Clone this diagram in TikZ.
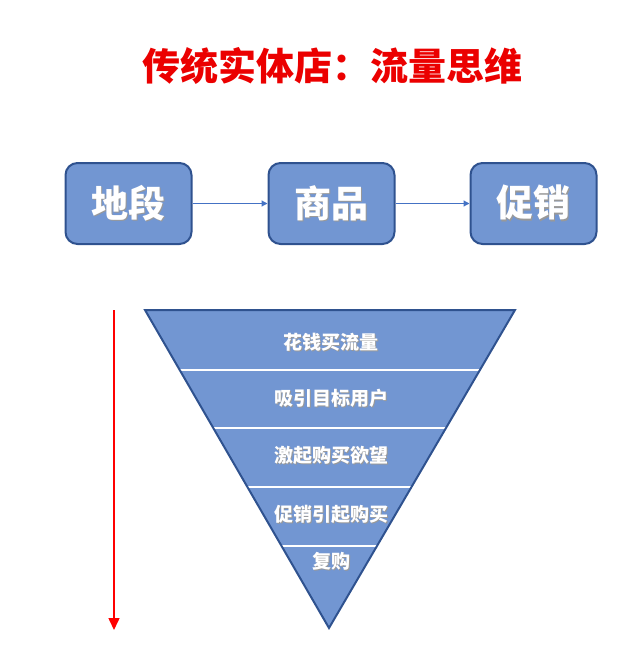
\documentclass[tikz,border=0pt]{standalone}
\usepackage{fontspec}
\newfontfamily\cjk{Noto Sans CJK SC}
\usetikzlibrary{arrows.meta}
\definecolor{boxblue}{RGB}{114,150,210}
\definecolor{edgeblue}{RGB}{47,82,143}
\definecolor{lineblue}{RGB}{68,114,196}
\definecolor{titlered}{RGB}{235,0,0}
\newcommand{\shadowtext}[1]{\makebox[0pt][l]{\hspace{1.2pt}\raisebox{-1.2pt}{\textcolor{black!40}{#1}}}#1}
\tikzset{
  stagebox/.style={draw=edgeblue, line width=2pt, fill=boxblue,
       rounded corners=12pt, minimum width=126pt, minimum height=81pt,
       text=white, font=\cjk\bfseries\fontsize{37}{37}\selectfont},
  flowline/.style={lineblue, line width=1.2pt,
       -{Triangle[length=6pt,width=6pt]}},
  levellabel/.style={text=white, font=\cjk\bfseries\fontsize{19}{19}\selectfont}
}

\begin{document}
\begin{tikzpicture}[x=1pt, y=-1pt]
\useasboundingbox (0,0) rectangle (640,672);

\draw (332, 66) node[text=titlered,
 font=\cjk\bfseries\fontsize{38}{38}\selectfont] (title) {传统实体店：流量思维};

\draw (128.5, 203.5) node[stagebox] (site) {\shadowtext{地段}};
\draw (331.5, 203.5) node[stagebox] (goods) {\shadowtext{商品}};
\draw (533.5, 203.5) node[stagebox] (promo) {\shadowtext{促销}};
\draw[flowline] (site) -- (goods);
\draw[flowline] (goods) -- (promo);

\coordinate (fl) at (145, 310);
\coordinate (fr) at (515, 310);
\coordinate (fa) at (329, 628);
\fill[boxblue] (fl) -- (fr) -- (fa) -- cycle;
\begin{scope}
\clip (fl) -- (fr) -- (fa) -- cycle;
\foreach \y in {370, 428, 487, 546}
  \draw[white, line width=1.5pt] (100, \y) -- (560, \y);
\end{scope}
\draw[edgeblue, line width=2pt, line join=miter] (fl) -- (fr) -- (fa) -- cycle;

\draw (331, 343) node[levellabel] (l1) {\shadowtext{花钱买流量}};
\draw (331, 399) node[levellabel] (l2) {\shadowtext{吸引目标用户}};
\draw (331, 456) node[levellabel] (l3) {\shadowtext{激起购买欲望}};
\draw (331, 515) node[levellabel] (l4) {\shadowtext{促销引起购买}};
\draw (331, 562) node[levellabel] (l5) {\shadowtext{复购}};

\coordinate (downtop) at (114, 310);
\coordinate (downend) at (114, 630);
\draw[red, line width=1.5pt, -{Triangle[length=12pt,width=11pt]}] (downtop) -- (downend);
\end{tikzpicture}
\end{document}
